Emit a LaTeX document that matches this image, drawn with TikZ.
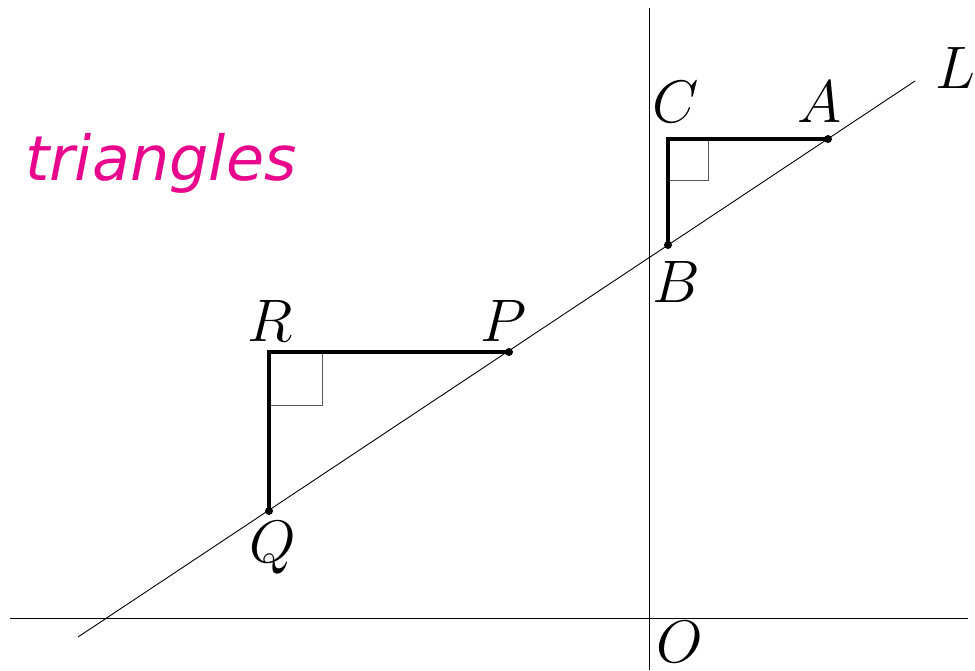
\RequirePackage{fix-cm}
\documentclass[tikz,border=0pt]{standalone}
\usepackage{fontspec}
\newfontfamily\labfont{DejaVu Sans}
\definecolor{mag}{HTML}{E8078C}
\begin{document}
\begin{tikzpicture}[x=1pt,y=-1pt,
  thinline/.style={line width=0.9pt,black},
  leg/.style={line width=3.8pt,black},
  ramark/.style={line width=0.9pt,black!65},
  lbl/.style={inner sep=0pt,font=\fontsize{60}{62}\selectfont},
  pt/.style={circle,fill=black,inner sep=0pt,minimum size=8pt}]
\useasboundingbox (0,0) rectangle (975,670);
% axes
\coordinate (xl) at (10,618); \coordinate (xr) at (968,618);
\coordinate (yt) at (649,8); \coordinate (yb) at (649,670);
\draw[thinline] (xl) -- (xr);
\draw[thinline] (yt) -- (yb);
% line L
\coordinate (L1) at (78,637); \coordinate (L2) at (915,81);
\draw[thinline] (L1) -- (L2);
% points
\coordinate (A) at (828,139); \coordinate (C) at (668,139); \coordinate (B) at (668,245);
\coordinate (P) at (509,352); \coordinate (R) at (269,352); \coordinate (Q) at (269,511);
% right angle marks
\draw[ramark] (668,180) -- (708,180) -- (708,139);
\draw[ramark] (269,405) -- (322,405) -- (322,352);
% legs
\draw[leg,line join=miter] (A) -- (C) -- (B);
\draw[leg,line join=miter] (P) -- (R) -- (Q);
\node[pt] (dA) at (A) {}; \node[pt] (dB) at (B) {};
\node[pt] (dP) at (P) {}; \node[pt] (dQ) at (Q) {};
% labels
\node[lbl] (lC) at (676,102) {$C$};
\node[lbl] (lA) at (820,102) {$A$};
\node[lbl] (lL) at (955,68) {$L$};
\node[lbl] (lB) at (676,282) {$B$};
\node[lbl] (lR) at (270,321) {$R$};
\node[lbl] (lP) at (504,321) {$P$};
\node[lbl] (lQ) at (273,548) {$Q$};
\node[lbl] (lO) at (680,642) {$O$};
\node[anchor=base west,inner sep=0pt,text=mag,font=\labfont\itshape\fontsize{62}{66}\selectfont] (tri) at (25,180) {triangles};
\end{tikzpicture}
\end{document}
